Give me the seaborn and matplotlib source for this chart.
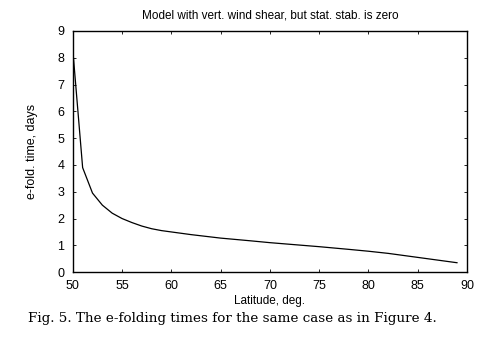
import matplotlib
matplotlib.use("Agg")
import matplotlib.pyplot as plt
import seaborn as sns
import pandas as pd

latitude = [50, 51, 52, 53, 54, 55, 56, 57, 58, 59, 60, 62, 65, 68, 70, 72, 75, 78, 80, 82, 85, 87, 89]
efold_days = [8.3, 3.9, 2.95, 2.5, 2.2, 2.0, 1.85, 1.72, 1.62, 1.55, 1.5, 1.4, 1.27, 1.17, 1.1, 1.04, 0.95, 0.85, 0.78, 0.7, 0.55, 0.45, 0.35]
x_ticks = [50, 55, 60, 65, 70, 75, 80, 85, 90]
y_ticks = [0, 1, 2, 3, 4, 5, 6, 7, 8, 9]

sns.set_theme(style="ticks")
plt.rcParams['font.family'] = ['Liberation Sans', 'DejaVu Sans']
plt.rcParams['text.color'] = 'black'
plt.rcParams['axes.labelcolor'] = 'black'

df = pd.DataFrame({"lat": latitude, "t": efold_days})

fig = plt.figure(figsize=(4.82, 3.48), dpi=100)
ax = fig.add_axes([0.151, 0.218, 0.818, 0.693])
sns.lineplot(data=df, x="lat", y="t", ax=ax, color="black", linewidth=0.9)
ax.set_xlim(50, 90)
ax.set_ylim(0, 9)
ax.set_xticks(x_ticks)
ax.set_yticks(y_ticks)
ax.tick_params(direction="in", length=2, width=0.6, labelsize=9, top=True, right=True, pad=6, colors="black")
for s in ax.spines.values():
    s.set_linewidth(1.0)
    s.set_color("black")
ax.set_xlabel("Latitude, deg.", fontsize=8.5, labelpad=2, color="black")
ax.set_ylabel("e-fold. time, days", fontsize=9, labelpad=14, color="black")
ax.set_title("Model with vert. wind shear, but stat. stab. is zero", fontsize=8.5, pad=9, color="black")
fig.text(0.482, 0.085, "Fig. 5. The e-folding times for the same case as in Figure 4.",
         ha="center", va="center", fontsize=9.7, family=["DejaVu Serif"], color="black")
fig.savefig("out.png", dpi=100, facecolor="white")
